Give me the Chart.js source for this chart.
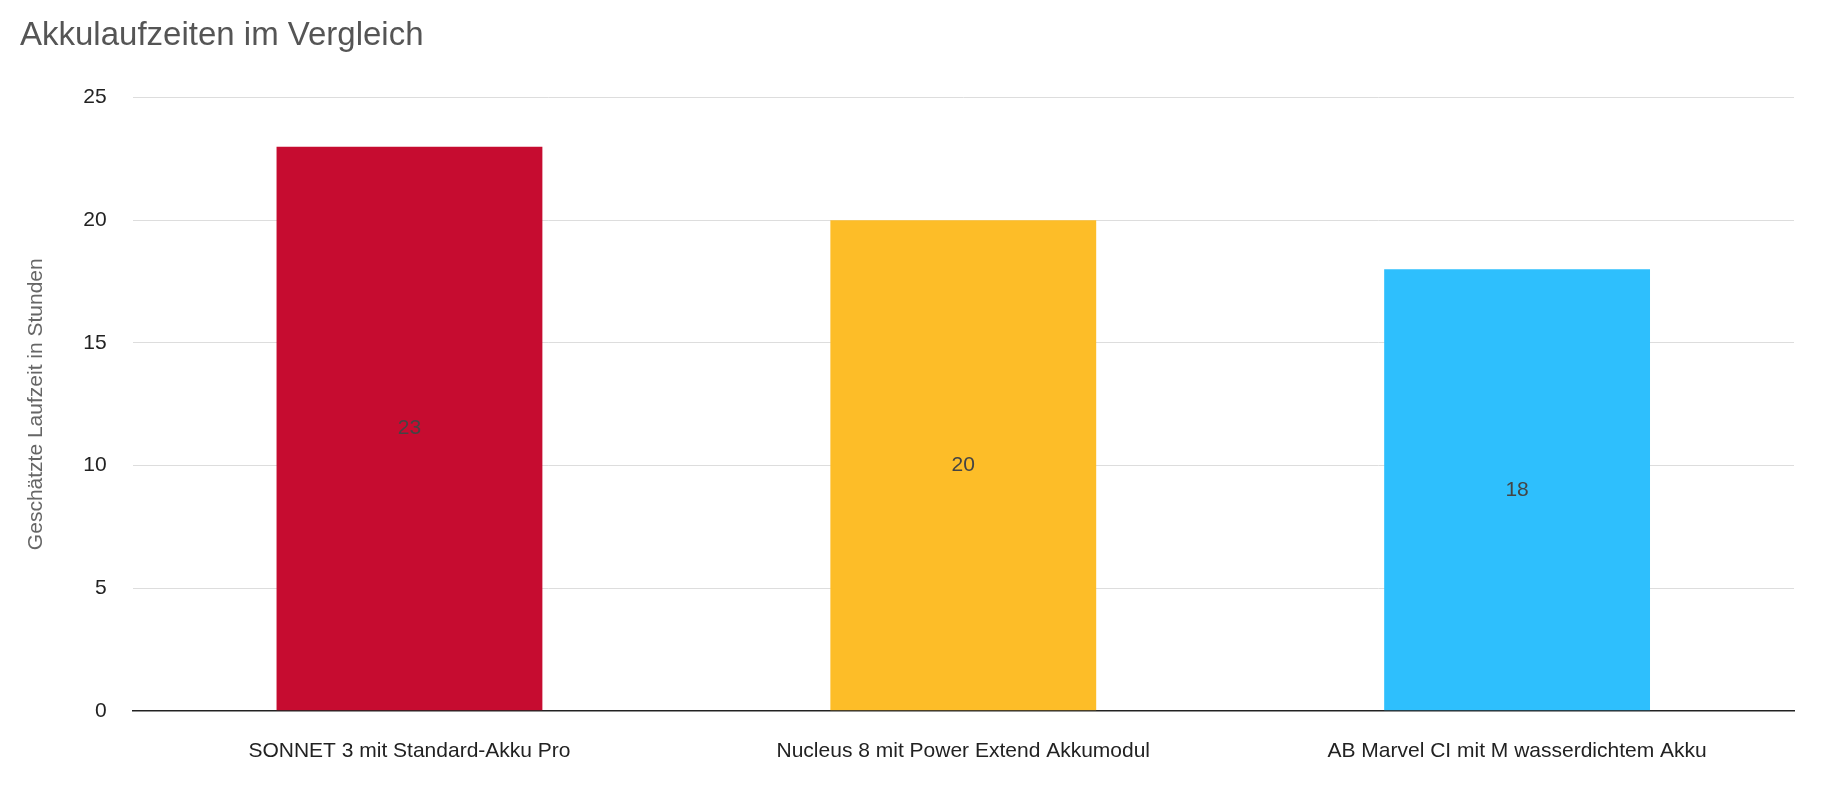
<!DOCTYPE html>
<html><head><meta charset="utf-8">
<script src="https://cdn.jsdelivr.net/npm/chart.js@4"></script>
<style>html,body{margin:0;padding:0;background:#fff}#w{width:1830px;height:804px}</style>
</head><body><div id="w"><canvas id="c"></canvas></div>
<script>
const categories=["SONNET 3 mit Standard-Akku Pro","Nucleus 8 mit Power Extend Akkumodul","AB Marvel CI mit M wasserdichtem Akku"];
const values=[23,20,18];
const colors=["#C60C30","#FDBD28","#2EBFFD"];
const labelPlugin={id:'lbl',afterDatasetsDraw(ch){const ctx=ch.ctx;const m=ch.getDatasetMeta(0);ctx.save();ctx.font='21px Arial, "Liberation Sans"';ctx.fillStyle='#444';ctx.textAlign='center';ctx.textBaseline='middle';m.data.forEach((b,i)=>{ctx.fillText(String(values[i]),b.x,(b.y+b.base)/2);});ctx.restore();}};
new Chart(document.getElementById('c'),{type:'bar',data:{labels:categories,datasets:[{data:values,backgroundColor:colors,barPercentage:0.48,categoryPercentage:1}]},
options:{responsive:true,maintainAspectRatio:false,animation:false,
layout:{padding:{left:20,right:36,top:10,bottom:20}},
plugins:{legend:{display:false},tooltip:{enabled:false},title:{display:true,text:'Akkulaufzeiten im Vergleich',align:'start',color:'#555',font:{family:'Arial, "Liberation Sans"',size:33,weight:'normal'},padding:{top:6,bottom:42}}},
scales:{x:{grid:{display:false},border:{color:'#222',width:1.5},ticks:{color:'#222',font:{family:'Arial, "Liberation Sans"',size:21},padding:20,maxRotation:0}},
y:{min:0,max:25,ticks:{stepSize:5,color:'#222',font:{family:'Arial, "Liberation Sans"',size:21},padding:26},grid:{color:'#ddd',drawTicks:false},border:{display:false},
title:{display:true,text:'Geschätzte Laufzeit in Stunden',color:'#666',font:{family:'Arial, "Liberation Sans"',size:21},padding:{bottom:8}}}}},
plugins:[labelPlugin]});
</script></body></html>
